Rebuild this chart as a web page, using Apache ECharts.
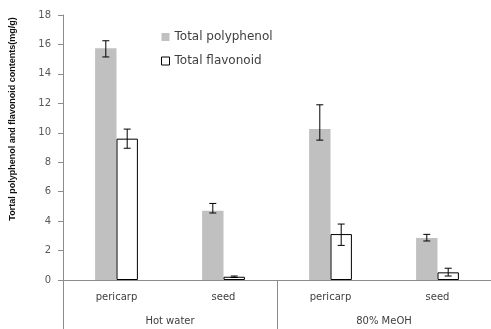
<!DOCTYPE html>
<html>
<head>
<meta charset="utf-8">
<script src="https://cdn.jsdelivr.net/npm/echarts@6/dist/echarts.min.js"></script>
<style>html,body{margin:0;padding:0;background:#fff}#c{width:491px;height:329px}</style>
</head>
<body>
<div id="c"></div>
<script>
const parts = ['pericarp', 'seed', 'pericarp', 'seed'];
const extracts = ['Hot water', '80% MeOH'];
const yTicks = [0, 2, 4, 6, 8, 10, 12, 14, 16, 18];
const polyphenol = [15.75, 4.7, 10.25, 2.85];
const polyErrTop = [16.25, 5.2, 11.9, 3.1];
const polyErrBottom = [15.15, 4.55, 9.5, 2.65];
const flavonoid = [9.6, 0.22, 3.12, 0.52];
const flavErrTop = [10.25, 0.27, 3.8, 0.8];
const flavErrBottom = [8.95, 0.17, 2.35, 0.27];

const chart = echarts.init(document.getElementById('c'));
const txt = '#404040';
const axisCol = '#8c8c8c';

function errSeries(top, bottom, side) {
  return {
    type: 'custom',
    xAxisIndex: 0,
    z: 10,
    silent: true,
    data: top.map((t, i) => [i, t, bottom[i]]),
    encode: { x: 0, y: [1, 2] },
    renderItem: function (params, api) {
      const i = api.value(0);
      const pTop = api.coord([i, api.value(1)]);
      const pBot = api.coord([i, api.value(2)]);
      const band = api.size([1, 0])[0];
      const bw = band * 0.2;
      const x = pTop[0] + side * bw / 2;
      const cap = 3.5;
      const st = { stroke: '#000', lineWidth: 1 };
      return {
        type: 'group',
        children: [
          { type: 'line', shape: { x1: x, y1: pTop[1], x2: x, y2: pBot[1] }, style: st },
          { type: 'line', shape: { x1: x - cap, y1: pTop[1], x2: x + cap, y2: pTop[1] }, style: st },
          { type: 'line', shape: { x1: x - cap, y1: pBot[1], x2: x + cap, y2: pBot[1] }, style: st }
        ]
      };
    }
  };
}

chart.setOption({
  animation: false,
  grid: { left: 63, right: 0, top: 15, bottom: 49 },
  legend: {
    orient: 'vertical',
    left: 156,
    top: 26,
    icon: 'rect',
    itemWidth: 8,
    itemHeight: 8,
    itemGap: 12,
    textStyle: { fontFamily: 'DejaVu Sans', fontSize: 12, color: txt },
    data: [
      { name: 'Total polyphenol', itemStyle: { color: '#c0c0c0', borderWidth: 0 } },
      { name: 'Total flavonoid', itemStyle: { color: '#fff', borderColor: '#000', borderWidth: 1 } }
    ]
  },
  xAxis: [
    {
      type: 'category',
      data: parts,
      position: 'bottom',
      axisLine: { show: true, lineStyle: { color: axisCol } },
      axisTick: { show: false },
      axisLabel: { margin: 12, fontFamily: 'DejaVu Sans', fontSize: 10, color: txt, interval: 0 }
    },
    {
      type: 'category',
      data: extracts,
      position: 'bottom',
      axisLine: { show: false },
      axisTick: { show: true, length: 49, lineStyle: { color: axisCol } },
      axisLabel: { margin: 36, fontFamily: 'DejaVu Sans', fontSize: 10, color: txt, interval: 0 }
    }
  ],
  yAxis: {
    type: 'value',
    min: yTicks[0],
    max: yTicks[yTicks.length - 1],
    interval: 2,
    splitLine: { show: false },
    axisLine: { show: true, lineStyle: { color: axisCol } },
    axisTick: { show: true, length: 5, lineStyle: { color: axisCol } },
    axisLabel: { margin: 12, fontFamily: 'DejaVu Sans', fontSize: 10, color: '#595959' }
  },
  graphic: [{
    type: 'text',
    x: 13,
    y: 119,
    rotation: Math.PI / 2,
    style: {
      text: 'Tortal polyphenol and flavonoid contents(mg/g)',
      fontFamily: 'Liberation Sans',
      fontWeight: 'bold',
      fontSize: 9,
      fill: '#111',
      align: 'center',
      verticalAlign: 'middle'
    }
  }],
  series: [
    {
      name: 'Total polyphenol',
      type: 'bar',
      xAxisIndex: 0,
      data: polyphenol,
      barGap: '0%',
      barCategoryGap: '60%',
      itemStyle: { color: '#c0c0c0' }
    },
    {
      name: 'Total flavonoid',
      type: 'bar',
      xAxisIndex: 0,
      data: flavonoid,
      barGap: '0%',
      barCategoryGap: '60%',
      itemStyle: { color: '#fff', borderColor: '#000', borderWidth: 1 }
    },
    errSeries(polyErrTop, polyErrBottom, -1),
    errSeries(flavErrTop, flavErrBottom, 1)
  ]
});
</script>
</body>
</html>
